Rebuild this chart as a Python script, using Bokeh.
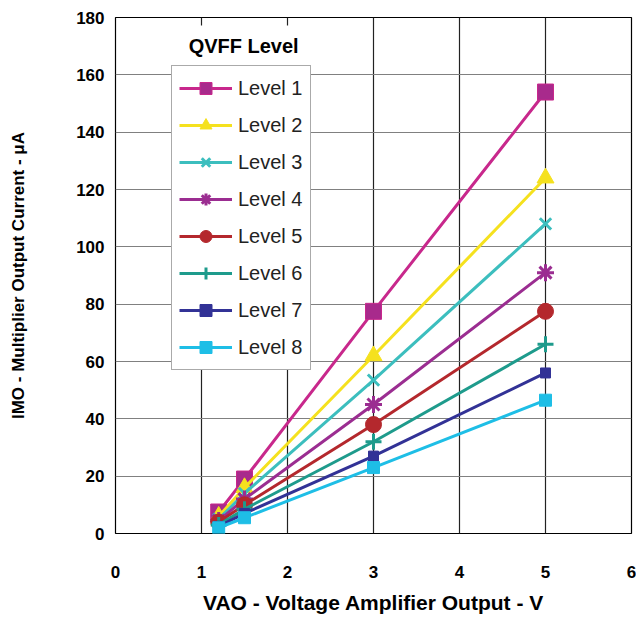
from bokeh.plotting import figure
from bokeh.models import Range1d, FixedTicker, Label, Legend, LegendItem, BoxAnnotation
from bokeh.embed import file_html
from bokeh.resources import INLINE

vao = [1.2, 1.5, 3, 5]
level1 = [7.5, 19, 77.5, 154]
level2 = [6, 16, 62, 124]
level3 = [5, 14, 53.5, 108]
level4 = [4.5, 12, 45, 91]
level5 = [4, 10, 38, 77.5]
level6 = [3, 8.5, 32, 66]
level7 = [2.5, 7, 27, 56]
level8 = [2, 5.5, 23, 46.5]
names = ["Level 1", "Level 2", "Level 3", "Level 4", "Level 5", "Level 6", "Level 7", "Level 8"]
series = [level1, level2, level3, level4, level5, level6, level7, level8]
x_ticks = [0, 1, 2, 3, 4, 5, 6]
y_ticks = [0, 20, 40, 60, 80, 100, 120, 140, 160, 180]

colors = ["#C8288C", "#F5E11E", "#3CBEBE", "#9B2D91", "#B4282D", "#1E9B8C", "#323296", "#1EBEE6"]
fills = ["#A82A8C", "#F5E11E", "#3CBEBE", "#9B2D91", "#B4282D", "#1E9B8C", "#323296", "#1EBEE6"]

FONT = "Liberation Sans"

p = figure(width=636, height=618, output_backend="svg", toolbar_location=None,
           x_range=Range1d(0, 6), y_range=Range1d(0, 180),
           min_border_left=115, min_border_right=5, min_border_top=17, min_border_bottom=85)
p.outline_line_color = "black"
p.outline_line_width = 1.2

p.xaxis.ticker = FixedTicker(ticks=x_ticks)
p.yaxis.ticker = FixedTicker(ticks=y_ticks)
for ax in (p.xaxis, p.yaxis):
    ax.axis_line_color = None
    ax.major_tick_line_color = None
    ax.minor_tick_line_color = None
    ax.major_label_text_font = FONT
    ax.major_label_text_font_style = "bold"
    ax.major_label_text_font_size = "17px"
    ax.major_label_text_color = "black"
    ax.axis_label_text_font = FONT
    ax.axis_label_text_font_style = "bold"
    ax.axis_label_text_color = "black"
p.xaxis.axis_label_text_font_size = "21px"
p.yaxis.axis_label_text_font_size = "17px"
p.xaxis.major_label_standoff = 26
p.yaxis.major_label_standoff = 5
p.xaxis.axis_label = "VAO - Voltage Amplifier Output - V"
p.yaxis.axis_label = "IMO - Multiplier Output Current - \u03bcA"
p.xaxis.axis_label_standoff = 10
p.yaxis.axis_label_standoff = 45

p.xgrid.grid_line_color = "#222222"
p.xgrid.grid_line_width = 1.2
p.ygrid.grid_line_color = "#808080"
p.ygrid.grid_line_width = 1.2

markers = ["square", "triangle", "x", "asterisk", "circle", "cross", "square", "square"]
sizes = [16, 17, 16, 17, 16, 16, 10, 12]
items = []
for i, (name, ys) in enumerate(zip(names, series)):
    r_line = p.line(vao, ys, line_color=colors[i], line_width=3)
    lw = 3 if markers[i] in ("x", "asterisk", "cross") else 1
    r_m = p.scatter(vao, ys, marker=markers[i], size=sizes[i], fill_color=fills[i],
                    line_color=colors[i], line_width=lw)
    items.append(LegendItem(label=name, renderers=[r_line, r_m]))

# white panel behind the legend heading
p.add_layout(BoxAnnotation(left=0.65, right=2.31, bottom=161.5, top=177.2,
                           fill_color="white", fill_alpha=1, line_color=None))

legend = Legend(items=items, location=(56, 163))
legend.label_text_font = FONT
legend.label_text_font_size = "20px"
legend.label_text_color = "#222222"
legend.glyph_width = 53
legend.glyph_height = 30
legend.label_height = 30
legend.spacing = 7
legend.padding = 7
legend.margin = 0
legend.label_standoff = 6
legend.border_line_color = "#555555"
legend.border_line_width = 1
legend.background_fill_alpha = 1
p.add_layout(legend, "center")

p.add_layout(Label(x=1.49, y=170.2, text="QVFF Level", text_font=FONT, text_font_style="bold",
                   text_font_size="20px", text_align="center", text_baseline="middle",
                   text_color="black"))

open("out.html", "w").write(file_html(p, INLINE))
